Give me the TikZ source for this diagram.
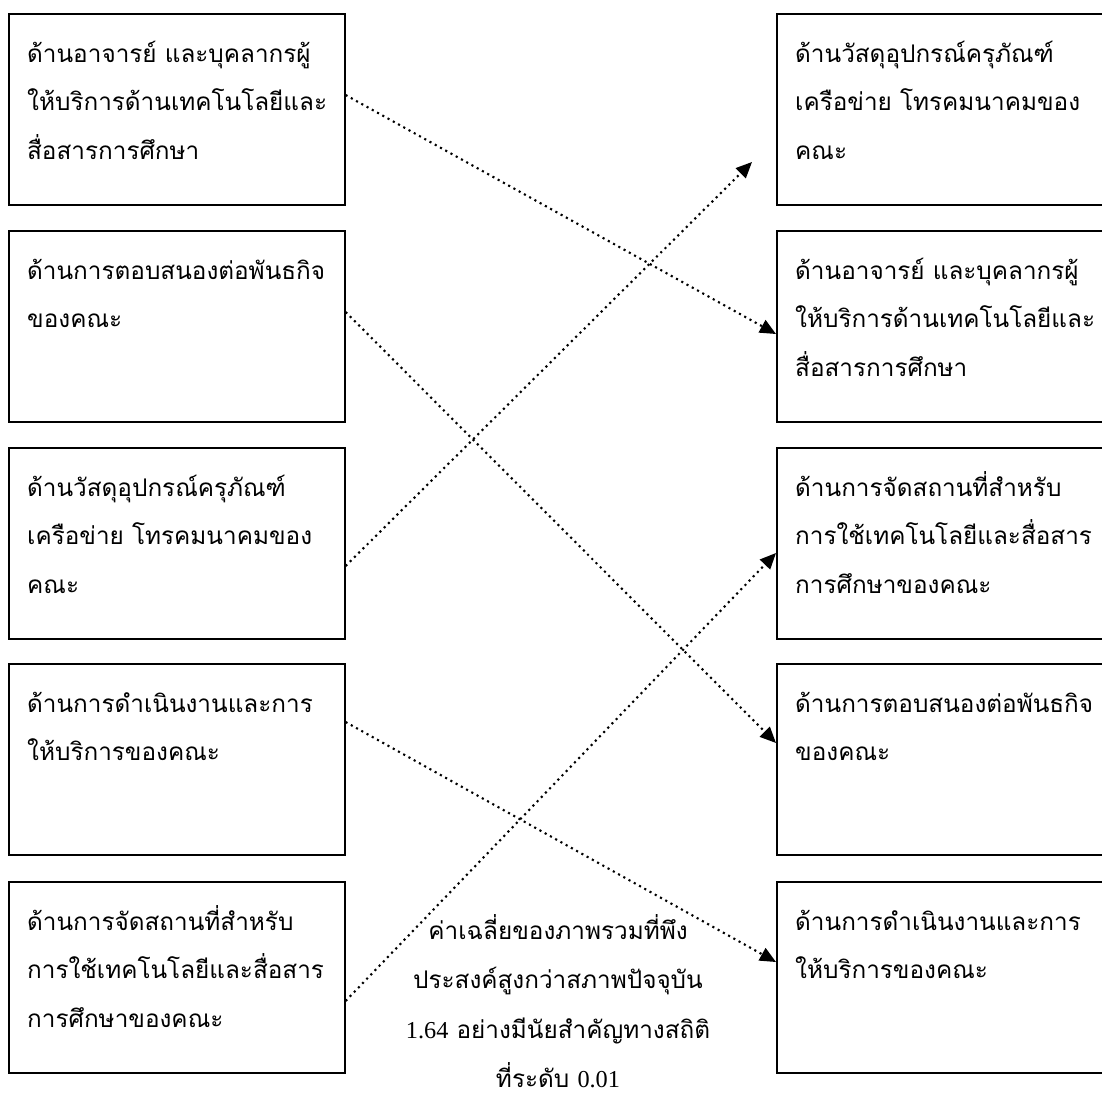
\documentclass[tikz,border=0pt]{standalone}
\usepackage{fontspec}
\newfontfamily\thaifont[Script=Thai]{Loma}
\newfontfamily\latfont{Liberation Serif}
\usetikzlibrary{arrows.meta,calc}
\newcommand\leftlines[1]{\vtop{\halign{##\hfil\cr #1\crcr}}}
\newcommand\midlines[1]{\vtop{\halign{\hfil##\hfil\cr #1\crcr}}}
\begin{document}
\begin{tikzpicture}[x=1pt,y=-1pt,
  box/.style={draw, line width=1.6pt, minimum width=336pt, minimum height=191pt, anchor=north west, inner sep=0pt},
  rbox/.style={box, minimum width=345pt},
  txt/.style={anchor=base west, inner sep=0pt, font=\thaifont\fontsize{24.3}{48.5}\selectfont},
  ctxt/.style={anchor=base, inner sep=0pt, font=\thaifont\fontsize{24.3}{49.5}\selectfont},
  link/.style={line width=2.1pt, dash pattern=on 2.1pt off 3.9pt, -{Triangle[length=16pt,width=14pt]}}
]
\useasboundingbox (0,0) rectangle (1102,1095);
% left boxes
\node[box] (L1) at (8,13) {};
\node[box] (L2) at (8,230) {};
\node[box] (L3) at (8,447) {};
\node[box] (L4) at (8,663) {};
\node[box] (L5) at (8,881) {};
% right boxes
\node[rbox] (R1) at (776,13) {};
\node[rbox] (R2) at (776,230) {};
\node[rbox] (R3) at (776,447) {};
\node[rbox] (R4) at (776,663) {};
\node[rbox] (R5) at (776,881) {};
% left texts
\node[txt] (L1t) at ($(L1.north west)+(19,49)$) {\leftlines{ด้านอาจารย์ และบุคลากรผู้\cr ให้บริการด้านเทคโนโลยีและ\cr สื่อสารการศึกษา}};
\node[txt] (L2t) at ($(L2.north west)+(19,49)$) {\leftlines{ด้านการตอบสนองต่อพันธกิจ\cr ของคณะ}};
\node[txt] (L3t) at ($(L3.north west)+(19,49)$) {\leftlines{ด้านวัสดุอุปกรณ์ครุภัณฑ์\cr เครือข่าย โทรคมนาคมของ\cr คณะ}};
\node[txt] (L4t) at ($(L4.north west)+(19,49)$) {\leftlines{ด้านการดำเนินงานและการ\cr ให้บริการของคณะ}};
\node[txt] (L5t) at ($(L5.north west)+(19,49)$) {\leftlines{ด้านการจัดสถานที่สำหรับ\cr การใช้เทคโนโลยีและสื่อสาร\cr การศึกษาของคณะ}};
% right texts
\node[txt] (R1t) at ($(R1.north west)+(19,49)$) {\leftlines{ด้านวัสดุอุปกรณ์ครุภัณฑ์\cr เครือข่าย โทรคมนาคมของ\cr คณะ}};
\node[txt] (R2t) at ($(R2.north west)+(19,49)$) {\leftlines{ด้านอาจารย์ และบุคลากรผู้\cr ให้บริการด้านเทคโนโลยีและ\cr สื่อสารการศึกษา}};
\node[txt] (R3t) at ($(R3.north west)+(19,49)$) {\leftlines{ด้านการจัดสถานที่สำหรับ\cr การใช้เทคโนโลยีและสื่อสาร\cr การศึกษาของคณะ}};
\node[txt] (R4t) at ($(R4.north west)+(19,49)$) {\leftlines{ด้านการตอบสนองต่อพันธกิจ\cr ของคณะ}};
\node[txt] (R5t) at ($(R5.north west)+(19,49)$) {\leftlines{ด้านการดำเนินงานและการ\cr ให้บริการของคณะ}};
% centre note
\node[ctxt] (note) at (558,939) {\midlines{ค่าเฉลี่ยของภาพรวมที่พึง\cr ประสงค์สูงกว่าสภาพปัจจุบัน\cr {\latfont 1.64} อย่างมีนัยสำคัญทางสถิติ\cr ที่ระดับ {\latfont 0.01}}};
% connectors
\coordinate (e2) at (752,162);
\draw[link] ($(L1.north east)+(0,82)$) -- ($(R2.north west)+(0,104)$);
\draw[link] ($(L3.north east)+(0,119)$) -- (e2);
\draw[link] ($(L2.north east)+(0,82)$) -- ($(R4.north west)+(0,80)$);
\draw[link] ($(L5.north east)+(0,120)$) -- ($(R3.north west)+(0,106)$);
\draw[link] ($(L4.north east)+(0,59)$) -- ($(R5.north west)+(0,81)$);
\end{tikzpicture}
\end{document}
